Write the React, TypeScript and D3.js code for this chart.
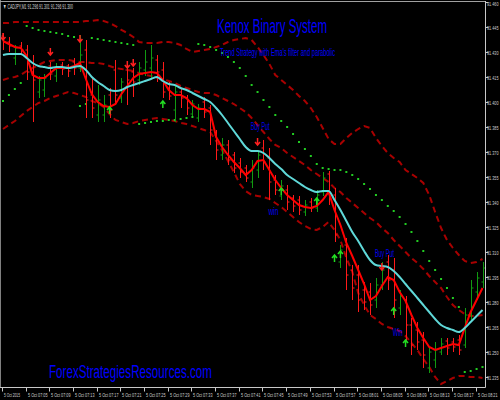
import React from 'react';
import * as d3 from 'd3';

// ---- data (CADJPY M1, 5 Oct 2015 07:01 .. 08:22) ----
const timeLabels = ["5 Oct 2015", "5 Oct 07:05", "5 Oct 07:09", "5 Oct 07:13", "5 Oct 07:17", "5 Oct 07:21", "5 Oct 07:25", "5 Oct 07:29", "5 Oct 07:33", "5 Oct 07:37", "5 Oct 07:41", "5 Oct 07:45", "5 Oct 07:49", "5 Oct 07:53", "5 Oct 07:57", "5 Oct 08:01", "5 Oct 08:05", "5 Oct 08:09", "5 Oct 08:13", "5 Oct 08:17", "5 Oct 08:21"];
const timeLabelIdx = [0, 4, 8, 12, 16, 20, 24, 28, 32, 36, 40, 44, 48, 52, 56, 60, 64, 68, 72, 76, 80];
const priceTicks = [91.460, 91.445, 91.430, 91.415, 91.400, 91.385, 91.370, 91.355, 91.340, 91.325, 91.310, 91.295, 91.280, 91.265, 91.250, 91.235];

const open = [91.4396,91.4360,91.4264,91.4336,91.4312,91.4180,91.4060,91.4072,91.4216,91.4156,
91.4222,91.4216,91.4240,91.4204,91.4312,91.4042,91.3922,91.3922,91.4042,91.4192,
91.4024,91.4192,91.4180,91.4132,91.4192,91.4204,91.4252,91.4192,91.4084,91.3952,
91.4060,91.4024,91.3928,91.3904,91.4000,91.3964,91.3802,91.3682,91.3742,91.3682,
91.3634,91.3604,91.3520,91.3592,91.3724,91.3664,91.3532,91.3436,91.3472,91.3424,
91.3412,91.3340,91.3400,91.3364,91.3460,91.3568,91.3442,91.3040,91.3142,91.2992,
91.2962,91.2872,91.2860,91.2812,91.2902,91.3040,91.2992,91.2764,91.2812,91.2662,
91.2632,91.2572,91.2404,91.2452,91.2500,91.2566,91.2560,91.2572,91.2542,91.2722,
91.2860,91.2920];
const high = [91.4414,91.4390,91.4342,91.4360,91.4342,91.4282,91.4156,91.4168,91.4240,91.4234,
91.4240,91.4228,91.4264,91.4402,91.4372,91.4144,91.4102,91.4042,91.4084,91.4252,
91.4144,91.4240,91.4204,91.4240,91.4312,91.4342,91.4282,91.4240,91.4120,91.4102,
91.4084,91.4042,91.4012,91.3988,91.4030,91.3982,91.3832,91.3784,91.3772,91.3700,
91.3664,91.3622,91.3652,91.3712,91.3772,91.3724,91.3562,91.3532,91.3502,91.3442,
91.3436,91.3412,91.3424,91.3472,91.3580,91.3586,91.3484,91.3142,91.3184,91.3022,
91.3022,91.2920,91.2914,91.2944,91.3040,91.3082,91.3064,91.2872,91.2836,91.2704,
91.2680,91.2620,91.2524,91.2560,91.2584,91.2584,91.2584,91.2602,91.2764,91.2932,
91.2980,91.3040];
const low = [91.4312,91.4300,91.4222,91.4282,91.4132,91.3880,91.4024,91.4030,91.4132,91.4120,
91.4162,91.4150,91.4162,91.4180,91.3904,91.3904,91.3880,91.3880,91.3904,91.3982,
91.3994,91.3982,91.4030,91.4102,91.4156,91.4144,91.4120,91.4024,91.4012,91.3880,
91.3964,91.3922,91.3916,91.3880,91.3904,91.3742,91.3652,91.3652,91.3622,91.3574,
91.3544,91.3520,91.3484,91.3544,91.3592,91.3412,91.3442,91.3412,91.3352,91.3340,
91.3322,91.3316,91.3340,91.3340,91.3436,91.3382,91.3160,91.3004,91.2872,91.2812,
91.2740,91.2752,91.2722,91.2764,91.2872,91.2872,91.2704,91.2722,91.2560,91.2482,
91.2512,91.2404,91.2374,91.2404,91.2482,91.2482,91.2500,91.2482,91.2524,91.2680,
91.2812,91.2884];
const close = [91.4360,91.4336,91.4324,91.4312,91.4180,91.4132,91.4132,91.4144,91.4168,91.4210,
91.4198,91.4186,91.4204,91.4282,91.4012,91.3964,91.4012,91.3982,91.3952,91.4042,
91.4120,91.4132,91.4120,91.4204,91.4240,91.4264,91.4180,91.4060,91.4036,91.4060,
91.4024,91.3964,91.3988,91.3964,91.3940,91.3832,91.3712,91.3742,91.3652,91.3604,
91.3580,91.3544,91.3604,91.3682,91.3640,91.3520,91.3472,91.3496,91.3400,91.3376,
91.3352,91.3382,91.3364,91.3442,91.3544,91.3442,91.3202,91.3112,91.2962,91.2884,
91.2812,91.2800,91.2782,91.2902,91.2992,91.2932,91.2812,91.2836,91.2662,91.2542,
91.2560,91.2482,91.2500,91.2512,91.2548,91.2524,91.2530,91.2512,91.2722,91.2884,
91.2944,91.3004];

const fastEma = [91.4366,91.4348,91.4330,91.4324,91.4276,91.4162,91.4144,91.4144,91.4174,91.4204,
91.4204,91.4204,91.4216,91.4234,91.4138,91.4048,91.4000,91.3976,91.3970,91.3988,
91.4048,91.4096,91.4144,91.4168,91.4174,91.4180,91.4174,91.4132,91.4072,91.4042,
91.4042,91.4024,91.3982,91.3958,91.3958,91.3940,91.3790,91.3730,91.3682,91.3640,
91.3604,91.3562,91.3592,91.3646,91.3652,91.3592,91.3532,91.3484,91.3442,91.3412,
91.3382,91.3370,91.3364,91.3376,91.3412,91.3460,91.3352,91.3262,91.3154,91.3076,
91.2992,91.2908,91.2812,91.2836,91.2896,91.2950,91.2932,91.2860,91.2806,91.2722,
91.2644,91.2584,91.2530,91.2512,91.2524,91.2536,91.2548,91.2542,91.2644,91.2740,
91.2812,91.2884];
const slowEma = [91.4282,91.4288,91.4288,91.4288,91.4264,91.4234,91.4216,91.4210,91.4204,91.4210,
91.4210,91.4204,91.4210,91.4216,91.4192,91.4150,91.4120,91.4096,91.4072,91.4066,
91.4072,91.4090,91.4102,91.4114,91.4126,91.4138,91.4150,91.4126,91.4108,91.4102,
91.4084,91.4072,91.4054,91.4036,91.4018,91.4000,91.3964,91.3922,91.3874,91.3826,
91.3778,91.3730,91.3706,91.3706,91.3694,91.3664,91.3628,91.3598,91.3562,91.3538,
91.3514,91.3490,91.3472,91.3460,91.3466,91.3466,91.3412,91.3352,91.3286,91.3220,
91.3166,91.3106,91.3052,91.3022,91.3016,91.3010,91.2986,91.2950,91.2908,91.2866,
91.2824,91.2782,91.2740,91.2698,91.2662,91.2644,91.2632,91.2620,91.2644,91.2680,
91.2716,91.2752];
const bandA = [91.4474,91.4474,91.4480,91.4480,91.4480,91.4480,91.4480,91.4480,91.4480,91.4480,
91.4480,91.4480,91.4480,91.4480,91.4486,91.4486,91.4492,91.4486,91.4474,91.4456,
91.4432,91.4414,91.4390,91.4360,91.4354,91.4354,91.4354,91.4360,91.4360,91.4354,
91.4342,91.4318,91.4300,91.4306,91.4312,91.4318,91.4330,91.4342,91.4360,91.4372,
91.4378,91.4384,91.4372,91.4330,91.4282,91.4228,91.4162,91.4132,91.4102,91.4072,
91.4036,91.4006,91.3964,91.3910,91.3844,91.3778,91.3748,91.3748,91.3784,91.3814,
91.3838,91.3856,91.3844,91.3784,91.3736,91.3694,91.3664,91.3640,91.3592,91.3568,
91.3544,91.3514,91.3442,91.3340,91.3244,91.3172,91.3124,91.3082,91.3046,91.3034,
91.3040,91.3058];
const bandB = [91.4132,91.4144,91.4150,91.4162,91.4186,91.4204,91.4222,91.4240,91.4246,91.4252,
91.4252,91.4252,91.4246,91.4240,91.4240,91.4234,91.4234,91.4228,91.4216,91.4204,
91.4198,91.4192,91.4186,91.4174,91.4162,91.4156,91.4144,91.4138,91.4126,91.4114,
91.4096,91.4084,91.4072,91.4060,91.4054,91.4054,91.4042,91.4024,91.4006,91.3988,
91.3964,91.3940,91.3904,91.3862,91.3820,91.3778,91.3742,91.3724,91.3694,91.3670,
91.3646,91.3622,91.3592,91.3568,91.3544,91.3520,91.3484,91.3460,91.3424,91.3394,
91.3364,91.3334,91.3304,91.3280,91.3244,91.3214,91.3172,91.3136,91.3100,91.3064,
91.3034,91.2998,91.2956,91.2920,91.2884,91.2830,91.2782,91.2752,91.2728,91.2716,
91.2716,91.2722];
const bandC = [91.3838,91.3862,91.3886,91.3916,91.3946,91.3970,91.3994,91.4006,91.4024,91.4036,
91.4048,91.4060,91.4054,91.4042,91.4030,91.4006,91.3994,91.3970,91.3928,91.3892,
91.3880,91.3868,91.3874,91.3886,91.3892,91.3898,91.3904,91.3898,91.3892,91.3886,
91.3874,91.3868,91.3856,91.3844,91.3832,91.3820,91.3766,91.3712,91.3646,91.3580,
91.3508,91.3466,91.3442,91.3436,91.3430,91.3418,91.3394,91.3370,91.3340,91.3310,
91.3280,91.3256,91.3238,91.3232,91.3250,91.3280,91.3232,91.3172,91.3064,91.2982,
91.2854,91.2782,91.2722,91.2698,91.2668,91.2650,91.2638,91.2626,91.2596,91.2554,
91.2512,91.2458,91.2410,91.2350,91.2308,91.2326,91.2344,91.2356,91.2356,91.2350,
91.2350,91.2344];
const sar = [91.4006,91.4042,91.4078,91.4114,91.4456,91.4444,91.4432,91.4426,91.4420,91.4414,
91.4408,91.4396,91.4390,91.3976,91.3988,91.4384,91.4378,91.4372,91.4366,91.4360,
91.4354,91.4348,91.4342,91.3868,91.3874,91.3880,91.3886,91.3886,91.3892,91.3892,
91.3898,91.3904,91.3910,91.4348,91.4342,91.4330,91.4312,91.4294,91.4270,91.4240,
91.4204,91.4156,91.4102,91.4060,91.4012,91.3970,91.3922,91.3886,91.3850,91.3808,
91.3760,91.3718,91.3676,91.3628,91.3604,91.3598,91.3592,91.3592,91.3580,91.3562,
91.3538,91.3508,91.3478,91.3442,91.3412,91.3376,91.3346,91.3310,91.3268,91.3220,
91.3166,91.3106,91.3046,91.2992,91.2938,91.2884,91.2824,91.2770,91.2380,91.2386,
91.2398,91.2410];

const sellIdx = [0, 8, 13, 21, 22, 43, 64];
const sellPrice = [91.4384, 91.4294, 91.4372, 91.4216, 91.4228, 91.3754, 91.3004];
const buyIdx = [18, 27, 47, 53, 56, 57, 66, 68];
const buyPrice = [91.3958, 91.3994, 91.3472, 91.3412, 91.3070, 91.3094, 91.2752, 91.2560];

const noteText = ["Buy Put", "win", "Buy Put", "Win"];
const noteIdx = [42, 45, 63, 66];
const notePrice = [91.3832, 91.3322, 91.3070, 91.2596];

// ---- component ----
const W = 500;
const H = 400;
const FONT = "'Liberation Sans Narrow', 'Liberation Sans', Arial, sans-serif";

export default function App() {
  const n = close.length;
  const idx = d3.range(n);
  const x = d3.scaleLinear().domain([0, 81]).range([3, 482.5]);
  const y = d3.scaleLinear().domain([91.4612, 91.2212]).range([0, 400]);

  const mk = (arr: number[], curve: any = d3.curveLinear) =>
    d3.line<number>().x(i => x(i)).y(i => y(arr[i])).curve(curve)(idx) || '';

  const axisX = 485.5;
  const axisY = 387.5;

  return (
    <svg width={W} height={H} style={{ position: 'absolute', left: 0, top: 0, display: 'block', background: '#000' }}>
      <rect x={0} y={0} width={W} height={H} fill="#000" />
      <defs>
        <clipPath id="plotClip">
          <rect x={1} y={2} width={484} height={385} />
        </clipPath>
      </defs>

      <g clipPath="url(#plotClip)">
        {/* envelope bands */}
        {[bandA, bandB, bandC].map((b, k) => (
          <path key={k} d={mk(b)} fill="none" stroke="#a80000" strokeWidth={2} strokeDasharray="6,4" />
        ))}

        {/* parabolic SAR */}
        {idx.map(i => (
          <rect key={'s' + i} x={x(i) - 1} y={y(sar[i]) - 1} width={2} height={2} fill="#22cc22" />
        ))}

        {/* OHLC bars */}
        {idx.map(i => {
          const cx = Math.round(x(i)) + 0.5;
          const col = close[i] > open[i] ? '#119a11' : '#ff1a1a';
          return (
            <g key={'b' + i} stroke={col} strokeWidth={1}>
              <line x1={cx} x2={cx} y1={y(high[i])} y2={y(low[i])} />
              <line x1={cx - 2} x2={cx} y1={y(open[i])} y2={y(open[i])} />
              <line x1={cx} x2={cx + 2} y1={y(close[i])} y2={y(close[i])} />
            </g>
          );
        })}

        {/* fast EMA */}
        <path d={mk(fastEma)} fill="none" stroke="#ff0000" strokeWidth={2} />
        {/* slow EMA */}
        <path d={mk(slowEma, d3.curveMonotoneX)} fill="none" stroke="#5fd8d8" strokeWidth={2} />

        {/* signal arrows */}
        {sellIdx.map((b, k) => {
          const cx = x(b), cy = y(sellPrice[k]);
          return (
            <path key={'sa' + k}
              d={`M${cx},${cy - 5}L${cx},${cy + 2}M${cx - 2.5},${cy - 1}L${cx},${cy + 2}L${cx + 2.5},${cy - 1}`}
              fill="none" stroke="#ff2020" strokeWidth={1.5} />
          );
        })}
        {buyIdx.map((b, k) => {
          const cx = x(b), cy = y(buyPrice[k]);
          return (
            <path key={'ba' + k}
              d={`M${cx},${cy + 5}L${cx},${cy - 2}M${cx - 2.5},${cy + 1}L${cx},${cy - 2}L${cx + 2.5},${cy + 1}`}
              fill="none" stroke="#22dd22" strokeWidth={1.5} />
          );
        })}

        {/* annotations */}
        {noteText.map((t, k) => (
          <text key={'n' + k} x={x(noteIdx[k]) - 1} y={y(notePrice[k])} fill="#0000ee"
            fontFamily={FONT} fontSize={t === 'Win' ? 11 : 10} textLength={t.length > 3 ? 19 : 10}
            lengthAdjust="spacingAndGlyphs">{t}</text>
        ))}
      </g>

      {/* frame / axes */}
      <line x1={0.5} x2={0.5} y1={0} y2={axisY} stroke="#808080" strokeWidth={1} />
      <line x1={0} x2={axisX} y1={1.5} y2={1.5} stroke="#a0a0a0" strokeWidth={1} />
      <line x1={axisX} x2={axisX} y1={1} y2={axisY} stroke="#c8c8c8" strokeWidth={1} />
      <line x1={0} x2={axisX} y1={axisY} y2={axisY} stroke="#c8c8c8" strokeWidth={1} />

      {priceTicks.map((p, k) => (
        <g key={'pt' + k}>
          <line x1={axisX} x2={axisX + 3} y1={Math.round(y(p)) + 0.5} y2={Math.round(y(p)) + 0.5} stroke="#c8c8c8" />
          <text x={487} y={Math.max(y(p) + 2.5, 6)} fill="#d0d0d0" fontFamily={FONT} fontSize={6}
            textLength={11.5} lengthAdjust="spacingAndGlyphs">{p.toFixed(3)}</text>
        </g>
      ))}

      {timeLabels.map((t, k) => {
        const tx = Math.round(x(timeLabelIdx[k]) - 1) + 0.5;
        return (
          <g key={'tl' + k}>
            <line x1={tx} x2={tx} y1={axisY} y2={axisY + 4} stroke="#c8c8c8" />
            <text x={tx + 1.5} y={397} fill="#d0d0d0" fontFamily={FONT} fontSize={6}
              textLength={k === 0 ? 16 : 19.5} lengthAdjust="spacingAndGlyphs">{t}</text>
          </g>
        );
      })}

      {/* header + titles */}
      <text x={3} y={9} fill="#d8d8d8" fontFamily={FONT} fontSize={7} textLength={70}
        lengthAdjust="spacingAndGlyphs">▼ CADJPY,M1  91.296 91.301 91.296 91.300</text>
      <text x={217} y={33} fill="#0000ff" fontFamily={FONT} fontSize={20} textLength={110}
        lengthAdjust="spacingAndGlyphs">Kenox Binary System</text>
      <text x={220} y={56} fill="#0000ff" fontFamily={FONT} fontSize={11} textLength={115}
        lengthAdjust="spacingAndGlyphs">Trend Strategy with Ema's filter and parabolic</text>
      <text x={49} y={378} fill="#0000ff" fontFamily={FONT} fontSize={19} textLength={163}
        lengthAdjust="spacingAndGlyphs">ForexStrategiesResources.com</text>
    </svg>
  );
}
